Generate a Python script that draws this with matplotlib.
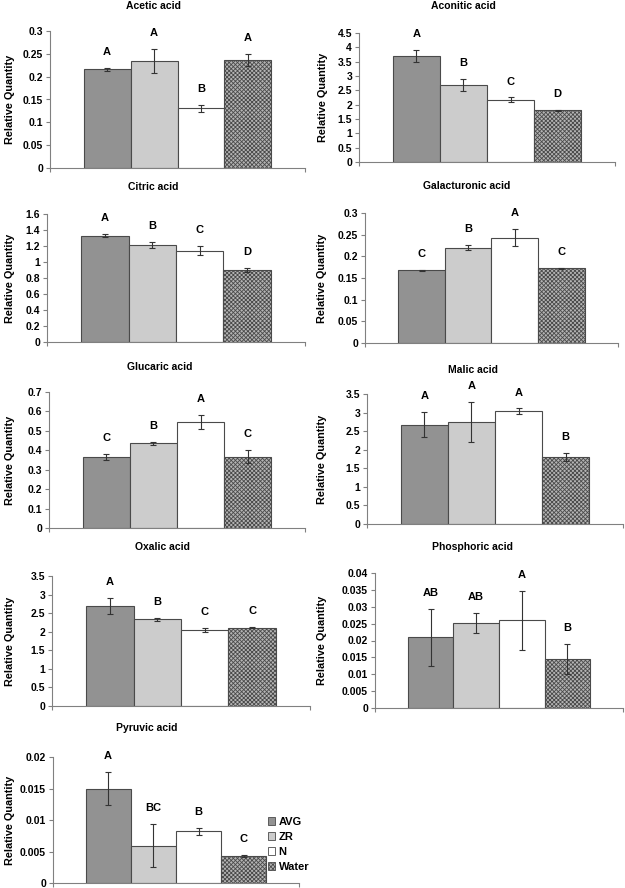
import matplotlib
matplotlib.use("Agg")
import matplotlib.pyplot as plt
from matplotlib.patches import Patch
from matplotlib.ticker import FuncFormatter, MultipleLocator

plt.rcParams["font.family"] = ["Liberation Sans", "DejaVu Sans"]
plt.rcParams["font.weight"] = "bold"
plt.rcParams["hatch.linewidth"] = 0.6

treatments = ["AVG", "ZR", "N", "Water"]

acetic = [0.216, 0.234, 0.131, 0.236]
acetic_sd = [0.004, 0.027, 0.008, 0.013]
acetic_grp = ["A", "A", "B", "A"]

aconitic = [3.70, 2.68, 2.17, 1.80]
aconitic_sd = [0.21, 0.21, 0.08, 0.03]
aconitic_grp = ["A", "B", "C", "D"]

citric = [1.33, 1.21, 1.14, 0.90]
citric_sd = [0.02, 0.04, 0.055, 0.027]
citric_grp = ["A", "B", "C", "D"]

galacturonic = [0.168, 0.220, 0.243, 0.172]
galacturonic_sd = [0.001, 0.006, 0.019, 0.001]
galacturonic_grp = ["C", "B", "A", "C"]

glucaric = [0.367, 0.435, 0.548, 0.367]
glucaric_sd = [0.015, 0.008, 0.036, 0.034]
glucaric_grp = ["C", "B", "A", "C"]

malic = [2.67, 2.75, 3.04, 1.80]
malic_sd = [0.34, 0.53, 0.07, 0.10]
malic_grp = ["A", "A", "A", "B"]

oxalic = [2.69, 2.33, 2.04, 2.11]
oxalic_sd = [0.21, 0.05, 0.06, 0.01]
oxalic_grp = ["A", "B", "C", "C"]

phosphoric = [0.0209, 0.0251, 0.0260, 0.0145]
phosphoric_sd = [0.0084, 0.0030, 0.0088, 0.0045]
phosphoric_grp = ["AB", "AB", "A", "B"]

pyruvic = [0.0150, 0.0059, 0.0082, 0.0043]
pyruvic_sd = [0.0026, 0.0034, 0.0006, 0.0001]
pyruvic_grp = ["A", "BC", "B", "C"]

# (title, means, sd, letters, ymax, ystep)
panels = [("Acetic acid", acetic, acetic_sd, acetic_grp, 0.3, 0.05),
          ("Aconitic acid", aconitic, aconitic_sd, aconitic_grp, 4.5, 0.5),
          ("Citric acid", citric, citric_sd, citric_grp, 1.6, 0.2),
          ("Galacturonic acid", galacturonic, galacturonic_sd, galacturonic_grp, 0.3, 0.05),
          ("Glucaric acid", glucaric, glucaric_sd, glucaric_grp, 0.7, 0.1),
          ("Malic acid", malic, malic_sd, malic_grp, 3.5, 0.5),
          ("Oxalic acid", oxalic, oxalic_sd, oxalic_grp, 3.5, 0.5),
          ("Phosphoric acid", phosphoric, phosphoric_sd, phosphoric_grp, 0.04, 0.005),
          ("Pyruvic acid", pyruvic, pyruvic_sd, pyruvic_grp, 0.02, 0.005)]

# axes boxes in pixels: left, right, top, bottom ; title centre x, y ; ylabel x
boxes = [(50, 305, 31, 168, 153, 6, 15),
         (359, 615, 33, 162, 463, 6, 328),
         (47, 305, 214, 342, 153, 187, 15),
         (365, 618, 213, 343, 467, 186, 327),
         (49, 305, 392, 528, 160, 367, 15),
         (367, 623, 394, 524, 473, 370, 327),
         (52, 310, 576, 706, 163, 547, 15),
         (375, 623, 573, 708, 473, 547, 327),
         (53, 299, 757, 883, 147, 728, 15)]

FACES = ["#929292", "#cccccc", "#ffffff", "#b4b4b4"]
HATCHES = [None, None, None, "xxxxxxxx"]
W, H = 625, 888

fig = plt.figure(figsize=(W / 100, H / 100), dpi=100)

for (title, means, sd, grp, ymax, step), box in zip(panels, boxes):
    left, right, top, bottom, tx, ty, lx = box
    ax = fig.add_axes([left / W, 1 - bottom / H, (right - left) / W, (bottom - top) / H])
    xs = list(range(len(treatments)))
    for i in xs:
        ax.bar(i, means[i], width=1.0, color=FACES[i], edgecolor="#4a4a4a",
               linewidth=0.8, hatch=HATCHES[i], zorder=2)
    ax.errorbar(xs, means, yerr=sd, fmt="none", ecolor="#333333",
                elinewidth=0.8, capsize=2.2, capthick=0.8, zorder=3)
    for i in xs:
        ax.annotate(grp[i], (i, means[i] + sd[i]), xytext=(0, 11.5),
                    textcoords="offset points", ha="center", va="center",
                    fontsize=8, fontweight="bold")
    ax.set_xlim(-1.22, 4.22)
    ax.set_ylim(0, ymax)
    ax.yaxis.set_major_locator(MultipleLocator(step))
    ax.yaxis.set_major_formatter(FuncFormatter(lambda v, p: f"{round(v, 6):g}"))
    ax.set_xticks([-1.22, 4.22])
    ax.set_xticklabels([])
    for s in ["top", "right"]:
        ax.spines[s].set_visible(False)
    for s in ["left", "bottom"]:
        ax.spines[s].set_color("#808080")
        ax.spines[s].set_linewidth(0.8)
    ax.tick_params(axis="both", colors="#808080", length=3, width=0.8,
                   labelcolor="black", labelsize=7.5, pad=2)
    ax.set_ylabel("Relative Quantity", fontsize=7.8, fontweight="bold")
    ax.yaxis.set_label_coords((lx - left) / (right - left), 0.5)
    fig.text(tx / W, 1 - ty / H, title, ha="center", va="center",
             fontsize=7.5, fontweight="bold")

handles = [Patch(facecolor=FACES[i], edgecolor="#4a4a4a", linewidth=0.6,
                 hatch=HATCHES[i], label=treatments[i]) for i in range(4)]
fig.legend(handles=handles, loc="upper left", bbox_to_anchor=(268 / W, 1 - 817 / H),
           frameon=False, fontsize=8, handlelength=0.65, handleheight=0.65,
           handletextpad=0.3, labelspacing=0.45, borderpad=0, borderaxespad=0)

fig.savefig("out.png", dpi=100)
